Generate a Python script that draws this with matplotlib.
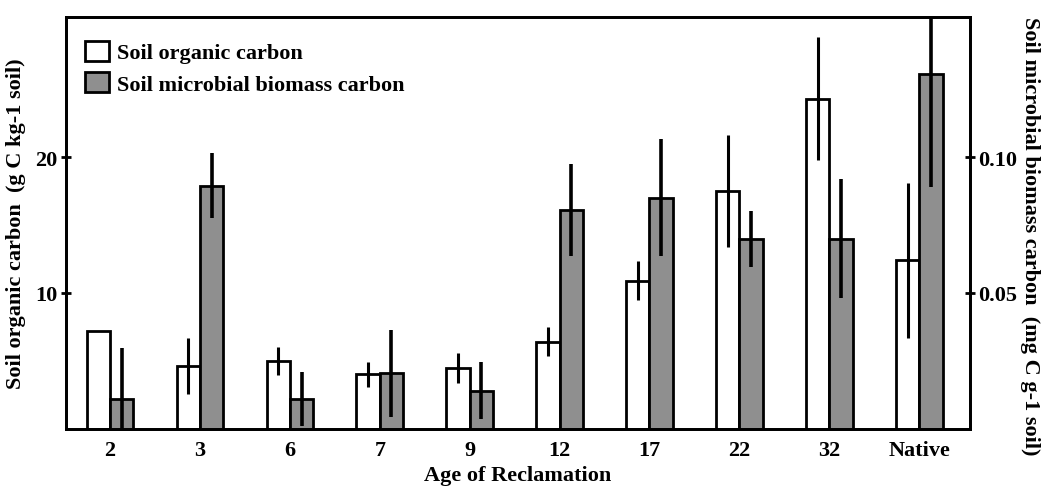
import matplotlib
matplotlib.use("Agg")
import matplotlib.pyplot as plt
import numpy as np

categories = ["2", "3", "6", "7", "9", "12", "17", "22", "32", "Native"]
soc = [7.2, 4.6, 5.0, 4.0, 4.5, 6.4, 10.9, 17.5, 24.3, 12.4]
soc_err = [0.0, 2.05, 1.05, 0.95, 1.1, 1.07, 1.45, 4.1, 4.5, 5.7]
mbc = [0.011, 0.0895, 0.011, 0.0205, 0.014, 0.0805, 0.085, 0.070, 0.070, 0.1305]
mbc_err = [0.0187, 0.012, 0.0098, 0.016, 0.0105, 0.017, 0.0215, 0.0103, 0.022, 0.0415]

plt.rcParams['font.family'] = ['Liberation Serif', 'DejaVu Serif']
plt.rcParams['font.weight'] = 'bold'

FS = 16

fig = plt.figure(figsize=(10.55, 4.89), dpi=100)
ax = fig.add_axes([0.0626, 0.121, 0.8564, 0.842])
ax2 = ax.twinx()

x = np.arange(len(categories))
w = 0.26
b1 = ax.bar(x - w / 2, soc, w, color='white', edgecolor='black', linewidth=2.0,
            label='Soil organic carbon', zorder=2)
ax.errorbar(x - w / 2, soc, yerr=soc_err, fmt='none', ecolor='black', elinewidth=2.2,
            capsize=0, zorder=3)
b2 = ax2.bar(x + w / 2, mbc, w, color='#8f8f8f', edgecolor='black', linewidth=2.0,
             label='Soil microbial biomass carbon', zorder=2)
ax2.errorbar(x + w / 2, mbc, yerr=mbc_err, fmt='none', ecolor='black', elinewidth=2.6,
             capsize=0, zorder=3)

ax.set_xlim(-0.49, 9.56)
ax.set_ylim(0, 30.3)
ax2.set_ylim(0, 30.3 * 0.005)
ax.set_yticks([10, 20])
ax.set_yticklabels(['10', '20'])
ax2.set_yticks([0.05, 0.10])
ax2.set_yticklabels(['0.05', '0.10'])
ax.set_xticks(x)
ax.set_xticklabels(categories)

ax.tick_params(axis='x', length=0, labelsize=FS, pad=8)
ax.tick_params(axis='y', direction='inout', length=7, width=2, labelsize=FS, pad=3)
ax2.tick_params(axis='y', direction='inout', length=7, width=2, labelsize=FS, pad=3)

for a in (ax, ax2):
    for s in a.spines.values():
        s.set_linewidth(2.0)

ax.set_xlabel('Age of Reclamation', fontsize=FS, fontweight='bold', labelpad=4)
ax.set_ylabel('Soil organic carbon  (g C kg-1 soil)', fontsize=FS, fontweight='bold', labelpad=6)
ax2.set_ylabel('Soil microbial biomass carbon  (mg C g-1 soil)', fontsize=FS, fontweight='bold',
               rotation=270, labelpad=20)
ax2.yaxis.set_label_coords(1.078, 0.47)

leg = ax.legend(handles=[b1, b2], loc='upper left', bbox_to_anchor=(0.004, 0.98), frameon=False,
                fontsize=FS, handlelength=1.08, handleheight=1.0, handletextpad=0.35,
                labelspacing=0.4, borderaxespad=0.3)
leg.set_zorder(5)

fig.savefig('out.png', dpi=100)
